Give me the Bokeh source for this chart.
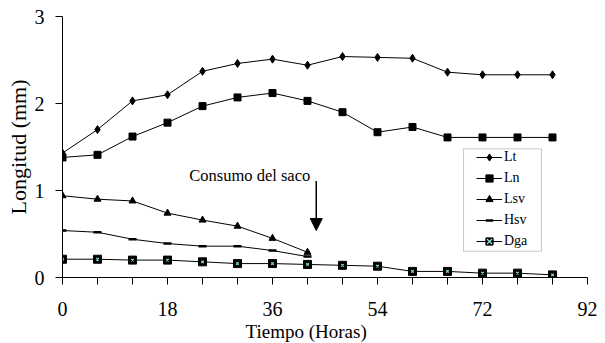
from bokeh.plotting import figure
from bokeh.models import (Range1d, FixedTicker, Legend, LegendItem, Label, Arrow,
                          NormalHead, BoxAnnotation, Title)
from bokeh.embed import file_html
from bokeh.resources import INLINE

# ---- data ----
hours = [0, 6, 12, 18, 24, 30, 36, 42, 48, 54, 60, 66, 72, 78, 84]
lt = [1.43, 1.70, 2.03, 2.10, 2.37, 2.46, 2.51, 2.44, 2.54, 2.53, 2.52, 2.36, 2.33, 2.33, 2.33]
ln = [1.38, 1.41, 1.62, 1.78, 1.97, 2.07, 2.12, 2.03, 1.90, 1.67, 1.73, 1.61, 1.61, 1.61, 1.61]
hours_short = [0, 6, 12, 18, 24, 30, 36, 42]
lsv = [0.94, 0.90, 0.88, 0.74, 0.66, 0.59, 0.45, 0.29]
hsv = [0.54, 0.52, 0.44, 0.39, 0.36, 0.36, 0.31, 0.24]
dga = [0.21, 0.21, 0.20, 0.20, 0.18, 0.16, 0.16, 0.15, 0.14, 0.13, 0.07, 0.07, 0.05, 0.05, 0.03]

x_ticks = [0, 6, 12, 18, 24, 30, 36, 42, 48, 54, 60, 66, 72, 78, 84, 90]
x_tick_labels = {0: "0", 18: "18", 36: "36", 54: "54", 72: "72", 90: "92"}
y_ticks = [0, 1, 2, 3]

annot_text = "Consumo del saco"
annot_x, annot_y = 32.1, 1.17
arrow_x, arrow_y0, arrow_y1 = 43.5, 1.11, 0.54

FONT = "Liberation Serif"

p = figure(width=605, height=343, output_backend="svg", toolbar_location=None,
           x_range=Range1d(0, 90), y_range=Range1d(0, 3),
           min_border_left=62, min_border_right=18, min_border_top=16, min_border_bottom=66)
p.outline_line_color = None
p.grid.visible = False
p.background_fill_color = "white"

# axes
xa = p.xaxis[0]
xa.ticker = FixedTicker(ticks=x_ticks)
xa.major_label_overrides = {t: x_tick_labels.get(t, "") for t in x_ticks}
xa.minor_tick_line_color = None
xa.major_tick_in = 0
xa.major_tick_out = 7
xa.major_label_standoff = 17
xa.major_label_text_font = FONT
xa.major_label_text_font_size = "20px"
xa.major_label_text_color = "black"
xa.axis_line_color = "black"
xa.major_tick_line_color = "black"

ya = p.yaxis[0]
ya.ticker = FixedTicker(ticks=y_ticks)
ya.minor_tick_line_color = None
ya.major_tick_in = 0
ya.major_tick_out = 7
ya.major_label_standoff = 11
ya.major_label_text_font = FONT
ya.major_label_text_font_size = "20px"
ya.major_label_text_color = "black"
ya.axis_line_color = "black"
ya.major_tick_line_color = "black"
ya.axis_label = "Longitud (mm)"
ya.axis_label_text_font = FONT
ya.axis_label_text_font_size = "22px"
ya.axis_label_text_font_style = "normal"
ya.axis_label_text_color = "black"
ya.axis_label_standoff = 1

# x axis title (slightly left of centre as in reference)
p.add_layout(Title(text="Tiempo (Horas)", align="left", offset=183, standoff=0,
                   text_font=FONT, text_font_size="19px", text_font_style="normal",
                   text_color="black"), "below")

# series
r_lt_l = p.line(hours, lt, line_color="black", line_width=1)
r_lt_m = p.scatter(hours, lt, marker="diamond", size=8, color="black")
r_ln_l = p.line(hours, ln, line_color="black", line_width=1)
r_ln_m = p.scatter(hours, ln, marker="square", size=7, color="black")
r_lsv_l = p.line(hours_short, lsv, line_color="black", line_width=1)
r_lsv_m = p.scatter(hours_short, lsv, marker="triangle", size=7, color="black")
r_hsv_l = p.line(hours_short, hsv, line_color="black", line_width=1)
r_hsv_m = p.scatter(hours_short, hsv, marker="dash", size=8, line_color="black", line_width=2.5)
r_dga_l = p.line(hours, dga, line_color="black", line_width=1)
r_dga_m = p.scatter(hours, dga, marker="square", size=8, color="black")
r_dga_x = p.scatter(hours, dga, marker="x", size=3.5, line_color="#8fe3e3", line_width=1.2)

# annotation
p.add_layout(Label(x=annot_x, y=annot_y, text=annot_text, text_align="center",
                   text_baseline="alphabetic", text_font=FONT, text_font_size="16.5px",
                   text_color="black"))
p.add_layout(Arrow(x_start=arrow_x, y_start=arrow_y0, x_end=arrow_x, y_end=arrow_y1,
                   line_color="black", line_width=1.5,
                   end=NormalHead(size=12, fill_color="black", line_color="black")))

# legend frame
p.add_layout(BoxAnnotation(left=68.75, right=82.1, bottom=0.302, top=1.479,
                           fill_color="white", fill_alpha=1,
                           line_color="#444444", line_width=1))

legend = Legend(items=[
    LegendItem(label="Lt", renderers=[r_lt_l, r_lt_m]),
    LegendItem(label="Ln", renderers=[r_ln_l, r_ln_m]),
    LegendItem(label="Lsv", renderers=[r_lsv_l, r_lsv_m]),
    LegendItem(label="Hsv", renderers=[r_hsv_l, r_hsv_m]),
    LegendItem(label="Dga", renderers=[r_dga_l, r_dga_m, r_dga_x]),
], location=(414, 27))
legend.padding = 0
legend.spacing = 3
legend.glyph_height = 18
legend.label_height = 18
legend.glyph_width = 26
legend.label_width = 30
legend.label_standoff = 2
legend.margin = 0
legend.label_text_font = FONT
legend.label_text_font_size = "14px"
legend.label_text_color = "black"
legend.border_line_color = None
legend.background_fill_alpha = 0
p.add_layout(legend, "center")

open("out.html", "w").write(file_html(p, INLINE))
